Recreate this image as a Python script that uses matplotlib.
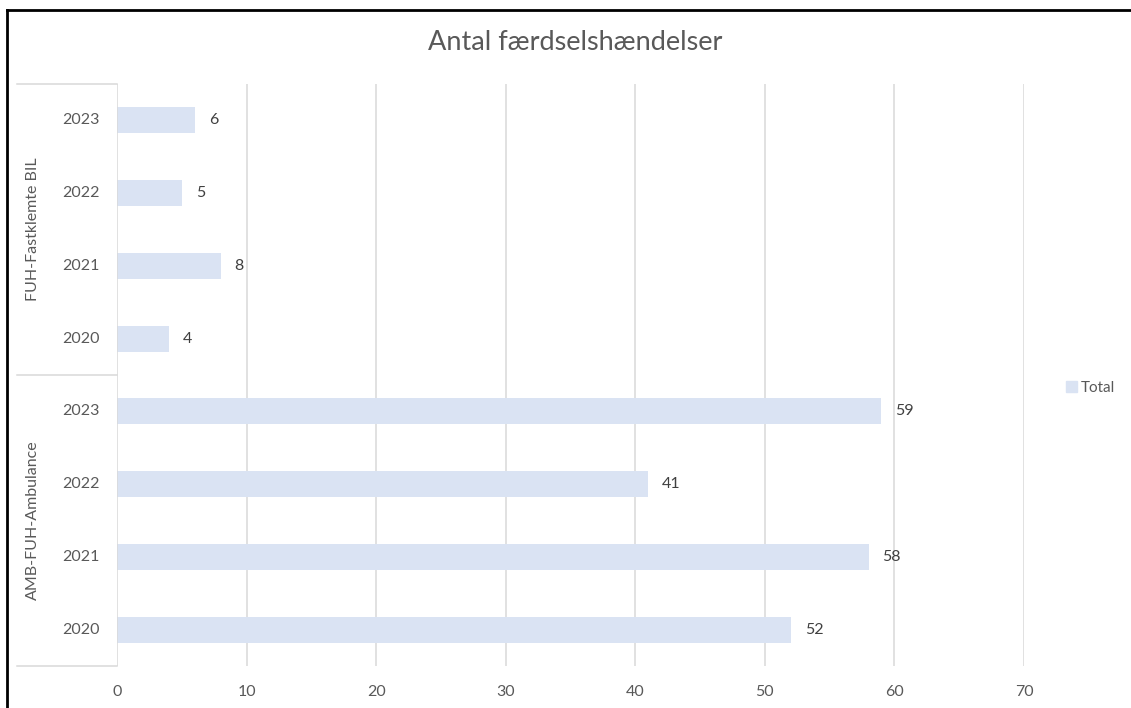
import matplotlib
matplotlib.use("Agg")
import matplotlib.pyplot as plt
from matplotlib.lines import Line2D
from matplotlib.patches import Patch

plt.rcParams['font.family'] = ['Lato', 'DejaVu Sans']

groups = ["AMB-FUH-Ambulance", "FUH-Fastklemte BIL"]
years = ["2020", "2021", "2022", "2023"]
values_amb = [52, 58, 41, 59]
values_fuh = [4, 8, 5, 6]
xticks = [0, 10, 20, 30, 40, 50, 60, 70]

W, H = 1131, 708
fig = plt.figure(figsize=(W / 100, H / 100), dpi=100)
txt = "#595959"
lbl = "#404040"
grid = "#D9D9D9"
barc = "#DAE3F3"

L, R, T, B = 117, 1024, 84, 666
ax = fig.add_axes([L / W, 1 - B / H, (R - L) / W, (B - T) / H])

vals = values_amb + values_fuh
ypos = list(range(len(vals)))
ax.barh(ypos, vals, height=0.36, color=barc, zorder=2)
ax.set_xlim(0, 70)
ax.set_ylim(-0.5, len(vals) - 0.5)
for s in ax.spines.values():
    s.set_visible(False)
ax.set_xticks(xticks)
ax.set_xticklabels([str(t) for t in xticks])
ax.tick_params(axis='x', length=0, pad=14, labelsize=11.5, labelcolor=txt)
ax.set_yticks([])
for t in xticks[1:]:
    ax.axvline(t, color=grid, lw=1.1, zorder=1)
ax.axvline(0, color=grid, lw=1.1, zorder=3)

for y, v in zip(ypos, vals):
    ax.annotate(str(v), (v, y), xytext=(10, 0), textcoords='offset points',
                ha='left', va='center', fontsize=11.5, color=lbl)

# multi-level category labels
xl = -(L - 17) / (R - L)
for yb in [-0.5, 3.5, 7.5]:
    ax.add_line(Line2D([xl, 0], [yb, yb], transform=ax.get_yaxis_transform(),
                       color=grid, lw=1.1, clip_on=False))
for i, y in enumerate(ypos):
    ax.text(-17 / (R - L), y, years[i % 4], transform=ax.get_yaxis_transform(),
            ha='right', va='center', fontsize=11.5, color=txt)
for g, name in enumerate(groups):
    ax.text(-(L - 33) / (R - L), g * 4 + 1.5, name, transform=ax.get_yaxis_transform(),
            rotation=90, ha='center', va='center', fontsize=11.5, color=txt)

fig.text((428 + 722) / 2 / W, 1 - 42 / H, "Antal færdselshændelser",
         ha='center', va='center', fontsize=19.5, color=txt)

fig.legend(handles=[Patch(color=barc, label="Total")], loc='center left',
           bbox_to_anchor=(1052 / W, 1 - 388 / H), frameon=False,
           fontsize=11, labelcolor=txt, handlelength=0.75, handleheight=0.75,
           handletextpad=0.25)

# partial outer frame (top and left visible)
fig.add_artist(Line2D([7 / W, 7 / W], [0, 1 - 10 / H], transform=fig.transFigure,
                      color='black', lw=2))
fig.add_artist(Line2D([7 / W, 1], [1 - 10 / H, 1 - 10 / H], transform=fig.transFigure,
                      color='black', lw=2))

fig.savefig("out.png", dpi=100, facecolor='white')
